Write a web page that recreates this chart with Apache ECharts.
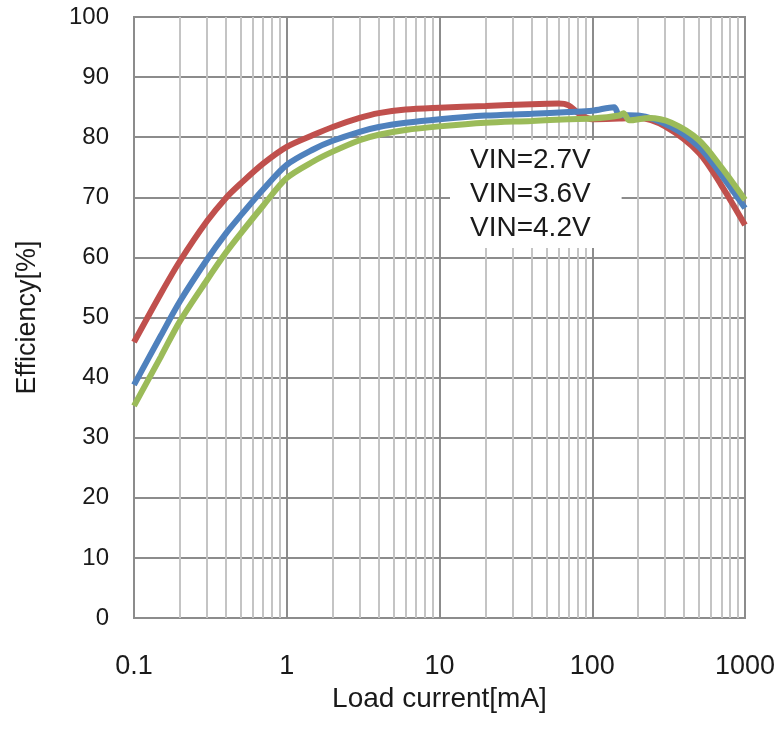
<!DOCTYPE html>
<html>
<head>
<meta charset="utf-8">
<script src="https://cdn.jsdelivr.net/npm/echarts@6/dist/echarts.min.js"></script>
<style>html,body{margin:0;padding:0;background:#fff;}#c{width:781px;height:738px;}</style>
</head>
<body>
<div id="c"></div>
<script>
// Load current [mA] / efficiency [%]
const vin27 = [[0.1,45.9],[0.15,54.0],[0.2,59.4],[0.3,66.0],[0.4,69.9],[0.5,72.3],[0.7,75.6],[1,78.4],[1.5,80.4],[2,81.7],[3,83.2],[4,84.0],[6,84.6],[10,84.9],[20,85.2],[40,85.5],[60,85.6],[70,85.3],[82,83.9],[100,83.0],[150,83.1],[200,83.2],[300,81.8],[500,77.4],[700,72.0],[1000,65.4]];
const vin36 = [[0.1,38.8],[0.15,47.0],[0.2,52.7],[0.3,59.6],[0.4,64.0],[0.5,67.0],[0.7,71.3],[1,75.4],[1.5,78.0],[2,79.4],[3,80.9],[4,81.7],[6,82.4],[10,83.0],[20,83.6],[40,83.9],[70,84.2],[100,84.4],[139,85.0],[150,83.7],[200,83.6],[330,81.7],[500,78.4],[700,73.7],[1000,68.2]];
const vin42 = [[0.1,35.3],[0.15,43.5],[0.2,49.4],[0.3,56.2],[0.4,60.8],[0.5,64.0],[0.7,68.6],[1,73.2],[1.5,76.0],[2,77.6],[3,79.5],[4,80.4],[6,81.2],[10,81.8],[20,82.4],[40,82.7],[70,83.0],[100,83.1],[150,83.6],[160,84.0],[175,82.8],[235,83.2],[330,82.4],[500,79.5],[700,75.0],[1000,69.6]];
const seriesNames = ['VIN=2.7V','VIN=3.6V','VIN=4.2V'];
const seriesColors = ['#C0504D','#4F81BD','#9BBB59'];
const minorX = [0.2,0.3,0.4,0.5,0.6,0.7,0.8,0.9,2,3,4,5,6,7,8,9,20,30,40,50,60,70,80,90,200,300,400,500,600,700,800,900];
const xTickLabels = ['0.1','1','10','100','1000'];

const FONT = '"Liberation Sans", Arial, sans-serif';
const chart = echarts.init(document.getElementById('c'), null, {renderer:'canvas'});
const lineSeries = [vin27, vin36, vin42].map((d, i) => ({
  name: seriesNames[i], type: 'line', data: d, smooth: 0.3, showSymbol: false,
  lineStyle: {color: seriesColors[i], width: 6}, itemStyle: {color: seriesColors[i]}, z: 5 + i
}));
chart.setOption({
  animation: false,
  backgroundColor: '#fff',
  grid: {left: 134, right: 36, top: 17, bottom: 120, show: true, borderColor: '#8c8c8c', borderWidth: 2, backgroundColor: 'transparent'},
  xAxis: {
    type: 'log', logBase: 10, min: 0.1, max: 1000,
    name: 'Load current[mA]', nameLocation: 'middle', nameGap: 53,
    nameTextStyle: {fontFamily: FONT, fontSize: 28, color: '#1a1a1a'},
    axisLine: {show: true, lineStyle: {color: '#8c8c8c', width: 2}},
    axisTick: {show: false},
    axisLabel: {fontFamily: FONT, fontSize: 27, color: '#1a1a1a', margin: 35,
      formatter: function (v) { const s = xTickLabels.find(t => Math.abs(parseFloat(t) - v) < 1e-6 * Math.max(1, v)); return s || ''; },
      showMinLabel: true, showMaxLabel: true},
    splitLine: {show: true, lineStyle: {color: '#8c8c8c', width: 2}},
    minorTick: {show: false}, minorSplitLine: {show: false}
  },
  yAxis: {
    type: 'value', min: 0, max: 100, interval: 10,
    name: 'Efficiency[%]', nameLocation: 'middle', nameGap: 93,
    nameTextStyle: {fontFamily: FONT, fontSize: 27, color: '#1a1a1a'},
    axisLine: {show: true, lineStyle: {color: '#8c8c8c', width: 2}},
    axisTick: {show: false},
    axisLabel: {fontFamily: FONT, fontSize: 24, color: '#1a1a1a', margin: 25},
    splitLine: {show: true, lineStyle: {color: '#8c8c8c', width: 2}}
  },
  graphic: [{
    type: 'text', left: 450, top: 140, z: 100,
    style: {
      text: seriesNames.join('\n'), font: '28px ' + FONT, lineHeight: 34,
      fill: '#1a1a1a', backgroundColor: '#fff', padding: [3, 31, 3, 20], align: 'left'
    }
  }],
  series: [{
    type: 'line', data: [], z: 1, silent: true,
    markLine: {
      silent: true, symbol: 'none', animation: false,
      label: {show: false},
      lineStyle: {color: '#c4c4c4', width: 2, type: 'solid'},
      emphasis: {disabled: true},
      data: minorX.map(v => ({xAxis: v}))
    }
  }].concat(lineSeries)
});
</script>
</body>
</html>
